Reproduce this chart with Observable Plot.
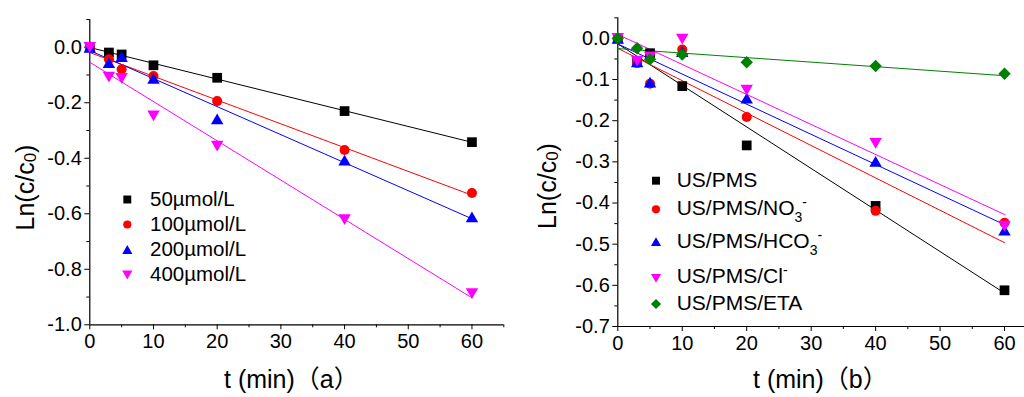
<!DOCTYPE html>
<html>
<head>
<meta charset="utf-8">
<script src="https://cdn.jsdelivr.net/npm/d3@7"></script>
<script src="https://cdn.jsdelivr.net/npm/@observablehq/plot@0.6"></script>
<style>
  html, body { margin: 0; padding: 0; background: #fff; overflow: hidden; }
  #wrap { position: relative; width: 1024px; height: 397px; overflow: hidden; background: #fff; }
  #wrap > svg { position: absolute; top: 0; }
  #left { left: 0; }
  #right { left: 512px; }
  #overlay { left: 0; pointer-events: none; }
</style>
</head>
<body>
<div id="wrap"></div>
<script>
// ---------- data ----------
const times = [0, 3, 5, 10, 20, 40, 60];

// panel (a)
const seriesA = ["50µmol/L", "100µmol/L", "200µmol/L", "400µmol/L"];
const a50  = [0, -0.019, -0.026, -0.065, -0.110, -0.230, -0.342];
const a100 = [0, -0.043, -0.079, -0.104, -0.194, -0.370, -0.525];
const a200 = [0, -0.055, -0.034, -0.112, -0.258, -0.407, -0.611];
const a400 = [0, -0.108, -0.112, -0.247, -0.356, -0.621, -0.888];

// panel (b)
const seriesB = ["US/PMS", "US/PMS/NO3-", "US/PMS/HCO3-", "US/PMS/Cl-", "US/PMS/ETA"];
const bPMS  = [0, -0.055, -0.036, -0.116, -0.260, -0.407, -0.612];
const bNO3  = [0, -0.060, -0.110, -0.027, -0.191, -0.419, -0.448];
const bHCO3 = [0, -0.057, -0.106, -0.032, -0.145, -0.299, -0.466];
const bCl   = [0, -0.055, -0.045, -0.002, -0.126, -0.255, -0.456];
const bETA  = [0, -0.024, -0.051, -0.039, -0.058, -0.067, -0.086];

// legend label parts for panel (b)
const legendB = [
  {base: "US/PMS"},
  {base: "US/PMS/NO", sub: "3", sup: "-"},
  {base: "US/PMS/HCO", sub: "3", sup: "-"},
  {base: "US/PMS/Cl", sup: "-"},
  {base: "US/PMS/ETA"}
];

// ticks
const xTicks = [0, 10, 20, 30, 40, 50, 60];
const xMinorA = [5, 15, 25, 35, 45, 55, 65];
const xMinorB = [5, 15, 25, 35, 45, 55];
const yTicksA = [0.0, -0.2, -0.4, -0.6, -0.8, -1.0];
const yMinorA = [0.1, -0.1, -0.3, -0.5, -0.7, -0.9];
const yTicksB = [0.0, -0.1, -0.2, -0.3, -0.4, -0.5, -0.6, -0.7];
const yMinorB = [0.05, -0.05, -0.15, -0.25, -0.35, -0.45, -0.55, -0.65];

const xDomainA = [0, 65], yDomainA = [-1.0, 0.1];
const xDomainB = [0, 63.1], yDomainB = [-0.7, 0.05];

const colorsA = ["#000000", "#ff0000", "#0000ff", "#ff00ff"];
const colorsB = ["#000000", "#ff0000", "#0000ff", "#ff00ff", "#008000"];
const kindsA = ["square", "circle", "up", "down"];
const kindsB = ["square", "circle", "up", "down", "diamond"];

// ---------- symbols ----------
function makeSym(kind) {
  return {
    draw(ctx, size) {
      const r = Math.sqrt(size / Math.PI);
      if (kind === "square") {
        const h = 0.9 * r;
        ctx.moveTo(-h, -h); ctx.lineTo(h, -h); ctx.lineTo(h, h); ctx.lineTo(-h, h); ctx.closePath();
      } else if (kind === "circle") {
        const rr = 0.93 * r;
        ctx.moveTo(rr, 0); ctx.arc(0, 0, rr, 0, 2 * Math.PI); ctx.closePath();
      } else if (kind === "up") {
        const a = 2.3 * r, h = a * 0.866;
        ctx.moveTo(0, -h / 2); ctx.lineTo(a / 2, h / 2); ctx.lineTo(-a / 2, h / 2); ctx.closePath();
      } else if (kind === "down") {
        const a = 2.3 * r, h = a * 0.866;
        ctx.moveTo(0, h / 2); ctx.lineTo(a / 2, -h / 2); ctx.lineTo(-a / 2, -h / 2); ctx.closePath();
      } else if (kind === "diamond") {
        const d = 1.15 * r;
        ctx.moveTo(0, -d); ctx.lineTo(d, 0); ctx.lineTo(0, d); ctx.lineTo(-d, 0); ctx.closePath();
      }
    }
  };
}

function table(name, vals) {
  return times.map((t, i) => ({t, v: vals[i], s: name}));
}

const fmt = d => (Math.abs(d) < 1e-9 ? 0 : d).toFixed(1);
const FONT = "'Liberation Sans', Arial, 'Noto Sans CJK SC', sans-serif";

function panel(opts) {
  const {series, values, colors, kinds, xDomain, yDomain, yTicks, yMinor, xMinor, margins, width} = opts;
  const data = series.map((s, i) => table(s, values[i]));
  const marks = [
    Plot.ruleX([xDomain[0]], {stroke: "#000", strokeWidth: 1.2}),
    Plot.ruleY([yDomain[0]], {stroke: "#000", strokeWidth: 1.2}),
    Plot.axisX(xTicks, {tickSize: 5, tickPadding: 4, fontSize: 20, tickFormat: d => String(d), label: null, stroke: "#000"}),
    Plot.axisX(xMinor, {tickSize: 3, tickFormat: () => "", label: null, stroke: "#000"}),
    Plot.axisY(yTicks, {tickSize: 5, tickPadding: 3, fontSize: 20, tickFormat: fmt, label: null, stroke: "#000"}),
    Plot.axisY(yMinor, {tickSize: 3, tickFormat: () => "", label: null, stroke: "#000"})
  ];
  data.forEach((d, i) => {
    marks.push(Plot.linearRegressionY(d, {x: "t", y: "v", stroke: colors[i], strokeWidth: 1, ci: 0}));
  });
  data.forEach((d, i) => {
    marks.push(Plot.dot(d, {x: "t", y: "v", r: 5.4, symbol: makeSym(kinds[i]), fill: colors[i], stroke: "none"}));
  });
  return Plot.plot({
    width, height: 397,
    marginLeft: margins[0], marginRight: margins[1], marginTop: margins[2], marginBottom: margins[3],
    x: {domain: xDomain},
    y: {domain: yDomain},
    style: {fontFamily: FONT, color: "#000", background: "transparent", overflow: "visible"},
    marks
  });
}

const wrap = document.getElementById("wrap");

const left = panel({
  series: seriesA, values: [a50, a100, a200, a400], colors: colorsA, kinds: kindsA,
  xDomain: xDomainA, yDomain: yDomainA, yTicks: yTicksA, yMinor: yMinorA, xMinor: xMinorA,
  margins: [89.3, 8.7, 19, 72.7], width: 512
});
left.id = "left";
wrap.appendChild(left);

const right = panel({
  series: seriesB, values: [bPMS, bNO3, bHCO3, bCl, bETA], colors: colorsB, kinds: kindsB,
  xDomain: xDomainB, yDomain: yDomainB, yTicks: yTicksB, yMinor: yMinorB, xMinor: xMinorB,
  margins: [105.3, 0, 17.3, 71], width: 512
});
right.id = "right";
wrap.appendChild(right);

// ---------- overlay: titles & legends ----------
const ov = d3.select(wrap).append("svg").attr("id", "overlay")
  .attr("width", 1024).attr("height", 397)
  .style("font-family", FONT);

function symPath(kind, r) {
  const p = d3.path();
  makeSym(kind).draw(p, r * r * Math.PI);
  return p.toString();
}

// y titles
function yTitle(x, y) {
  const t = ov.append("text")
    .attr("transform", `translate(${x},${y}) rotate(-90)`)
    .attr("text-anchor", "middle")
    .attr("font-size", 25).attr("fill", "#000");
  t.append("tspan").text("Ln(c/c");
  t.append("tspan").attr("font-size", 17).attr("dy", 2).text("0");
  t.append("tspan").attr("dy", -2).text(")");
}
yTitle(33.5, 187.5);
yTitle(555.5, 186);

// x titles
function xTitle(x, y, letter) {
  const t = ov.append("text").attr("x", x).attr("y", y)
    .attr("font-size", 25).attr("fill", "#000");
  t.append("tspan").text("t (min)");
  t.append("tspan").style("font-family", "'Noto Sans CJK SC', sans-serif").text("（");
  t.append("tspan").text(letter);
  t.append("tspan").style("font-family", "'Noto Sans CJK SC', sans-serif").text("）");
}
xTitle(224, 388, "a");
xTitle(753, 388, "b");

// legend (a)
const legAy = [205.5, 230.5, 255.5, 281];
seriesA.forEach((s, i) => {
  ov.append("path").attr("d", symPath(kindsA[i], 4.4))
    .attr("transform", `translate(127.3,${legAy[i] - 6})`).attr("fill", colorsA[i]);
  ov.append("text").attr("x", 150).attr("y", legAy[i]).attr("font-size", 20.5).attr("fill", "#000").text(s);
});

// legend (b)
const legBy = [186.7, 215, 248.3, 282.7, 310];
const legBm = [180.7, 209.3, 241.7, 278.3, 304];
legendB.forEach((l, i) => {
  ov.append("path").attr("d", symPath(kindsB[i], 4.4))
    .attr("transform", `translate(656,${legBm[i]})`).attr("fill", colorsB[i]);
  const t = ov.append("text").attr("x", 676.7).attr("y", legBy[i]).attr("font-size", 21).attr("fill", "#000");
  t.append("tspan").text(l.base);
  let dy = 0;
  if (l.sub) { t.append("tspan").attr("font-size", 14).attr("dy", 7).text(l.sub); dy = 7; }
  if (l.sup) { t.append("tspan").attr("font-size", 14).attr("dy", -8 - dy).text(l.sup); }
});
</script>
</body>
</html>
